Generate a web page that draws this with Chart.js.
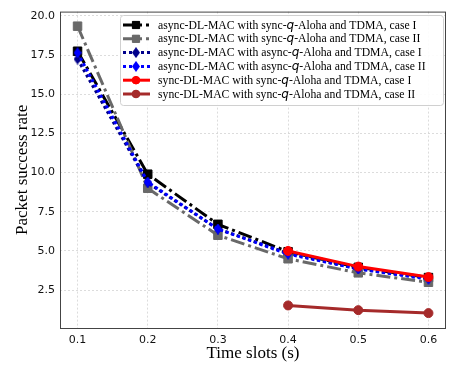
<!DOCTYPE html>
<html>
<head>
<meta charset="utf-8">
<script src="https://cdn.jsdelivr.net/npm/chart.js@4.4.1/dist/chart.umd.min.js"></script>
<style>
  html, body { margin: 0; padding: 0; background: #fff; }
  #wrap { width: 456px; height: 372px; }
</style>
</head>
<body>
<div id="wrap"><canvas id="psr" width="456" height="372"></canvas></div>
<script>
// ---- data ----
const slots = [0.1, 0.2, 0.3, 0.4, 0.5, 0.6];
const slotsSync = [0.4, 0.5, 0.6];
const yTicks = [2.5, 5.0, 7.5, 10.0, 12.5, 15.0, 17.5, 20.0];

const asyncSyncCase1 = [17.75, 9.9, 6.7, 4.95, 3.95, 3.3];
const asyncSyncCase2 = [19.35, 9.0, 6.0, 4.5, 3.6, 3.0];
const asyncAsyncCase1 = [17.25, 9.35, 6.4, 4.85, 3.85, 3.25];
const asyncAsyncCase2 = [17.65, 9.4, 6.4, 4.8, 3.85, 3.2];
const syncSyncCase1 = [5.0, 4.0, 3.33];
const syncSyncCase2 = [1.52, 1.22, 1.03];

// "|q|" marks the italic q
const labels = [
  "async-DL-MAC with sync-|q|-Aloha and TDMA, case I",
  "async-DL-MAC with sync-|q|-Aloha and TDMA, case II",
  "async-DL-MAC with async-|q|-Aloha and TDMA, case I",
  "async-DL-MAC with async-|q|-Aloha and TDMA, case II",
  "sync-DL-MAC with sync-|q|-Aloha and TDMA, case I",
  "sync-DL-MAC with sync-|q|-Aloha and TDMA, case II"
];

function pts(xs, ys) { return xs.map((x, i) => ({x: x, y: ys[i]})); }

// thin diamond marker (matplotlib 'd')
function thinDiamond(color, w, h) {
  const cv = document.createElement("canvas");
  cv.width = w; cv.height = h;
  const g = cv.getContext("2d");
  g.fillStyle = color;
  g.beginPath();
  g.moveTo(w / 2, 0);
  g.lineTo(w, h / 2);
  g.lineTo(w / 2, h);
  g.lineTo(0, h / 2);
  g.closePath();
  g.fill();
  return cv;
}

const DASHDOT = [14, 4, 3, 4];
const DOTTED = [3, 3];

function series(i, xs, ys, color, dash, shape, r) {
  return {
    label: labels[i],
    data: pts(xs, ys),
    borderColor: color,
    backgroundColor: color,
    borderWidth: 3,
    borderDash: dash,
    pointStyle: shape,
    pointRadius: r,
    pointBorderWidth: 1,
    tension: 0,
    order: 10 - i
  };
}

const datasets = [
  series(0, slots, asyncSyncCase1, "#000000", DASHDOT, "rect", 6),
  series(1, slots, asyncSyncCase2, "#696969", DASHDOT, "rect", 6),
  series(2, slots, asyncAsyncCase1, "#00008b", DOTTED, thinDiamond("#00008b", 8, 11), 5),
  series(3, slots, asyncAsyncCase2, "#0000ff", DOTTED, thinDiamond("#0000ff", 8, 11), 5),
  series(4, slotsSync, syncSyncCase1, "#ff0000", [], "circle", 4.5),
  series(5, slotsSync, syncSyncCase2, "#a52a2a", [], "circle", 4.5)
];

// frame round the plot area
const frame = {
  id: "frame",
  afterDraw(chart) {
    const a = chart.chartArea, c = chart.ctx;
    c.save();
    c.strokeStyle = "#444";
    c.lineWidth = 1;
    c.strokeRect(a.left + 0.5, a.top + 0.5, a.right - a.left - 1, a.bottom - a.top);
    c.restore();
  }
};

// legend inside the plot, upper right
const innerLegend = {
  id: "innerLegend",
  afterDraw(chart) {
    const c = chart.ctx;
    const bx = 120, by = 15, bw = 323, bh = 90, rowH = 13.8;
    c.save();
    c.fillStyle = "rgba(255,255,255,0.9)";
    c.strokeStyle = "#d0d0d0";
    c.lineWidth = 1;
    c.beginPath();
    c.roundRect(bx + 0.5, by + 0.5, bw, bh, 3);
    c.fill();
    c.stroke();
    chart.data.datasets.forEach((ds, i) => {
      const y = by + 10 + i * rowH;
      c.strokeStyle = ds.borderColor;
      c.lineWidth = 3;
      c.setLineDash(ds.borderDash === DASHDOT ? [19, 4, 3, 10] : ds.borderDash);
      c.beginPath();
      c.moveTo(123, y);
      c.lineTo(150, y);
      c.stroke();
      c.setLineDash([]);
      if (typeof ds.pointStyle === "string") {
        c.lineWidth = 1;
        c.fillStyle = ds.borderColor;
        Chart.helpers.drawPoint(c, {pointStyle: ds.pointStyle, radius: ds.pointRadius * 0.85, borderWidth: 1}, 136, y);
        c.fill();
      } else {
        c.drawImage(ds.pointStyle, 136 - 4, y - 5.5);
      }
      // text with italic q
      c.fillStyle = "#000";
      c.textBaseline = "middle";
      let x = 158;
      ds.label.split("|").forEach((part, k) => {
        c.font = k === 1 ? "italic 12px 'DejaVu Sans'" : "11.7px 'Liberation Serif'";
        c.fillText(part, x, y + 0.5);
        x += c.measureText(part).width;
      });
    });
    c.restore();
  }
};

const grid = {
  color: "#d4d4d4",
  lineWidth: 0.8,
  drawTicks: false
};

new Chart(document.getElementById("psr"), {
  type: "line",
  data: { datasets: datasets },
  options: {
    responsive: false,
    animation: false,
    layout: { padding: { left: 0, top: 9, right: 10, bottom: 0 } },
    plugins: { legend: { display: false }, tooltip: { enabled: false } },
    scales: {
      x: {
        type: "linear",
        min: 0.075,
        max: 0.625,
        afterBuildTicks: s => { s.ticks = slots.map(v => ({value: v})); },
        afterFit: s => { s.height = 44; },
        grid: grid,
        border: { display: false, dash: [2, 2] },
        ticks: {
          padding: 6,
          color: "#111",
          font: { family: "DejaVu Sans", size: 11 },
          callback: v => v.toFixed(1)
        },
        title: {
          display: true,
          text: "Time slots (s)",
          color: "#000",
          font: { family: "Liberation Serif", size: 17 },
          padding: { top: 0, bottom: 8 }
        }
      },
      y: {
        type: "linear",
        min: 0.08,
        max: 20.28,
        afterBuildTicks: s => { s.ticks = yTicks.map(v => ({value: v})); },
        afterFit: s => { s.width = 60; },
        grid: grid,
        border: { display: false, dash: [2, 2] },
        ticks: {
          padding: 5,
          color: "#111",
          font: { family: "DejaVu Sans", size: 11 },
          callback: v => v.toFixed(1)
        },
        title: {
          display: true,
          text: "Packet success rate",
          color: "#000",
          font: { family: "Liberation Serif", size: 17 },
          padding: { top: 12, bottom: 0 }
        }
      }
    }
  },
  plugins: [frame, innerLegend]
});
</script>
</body>
</html>
